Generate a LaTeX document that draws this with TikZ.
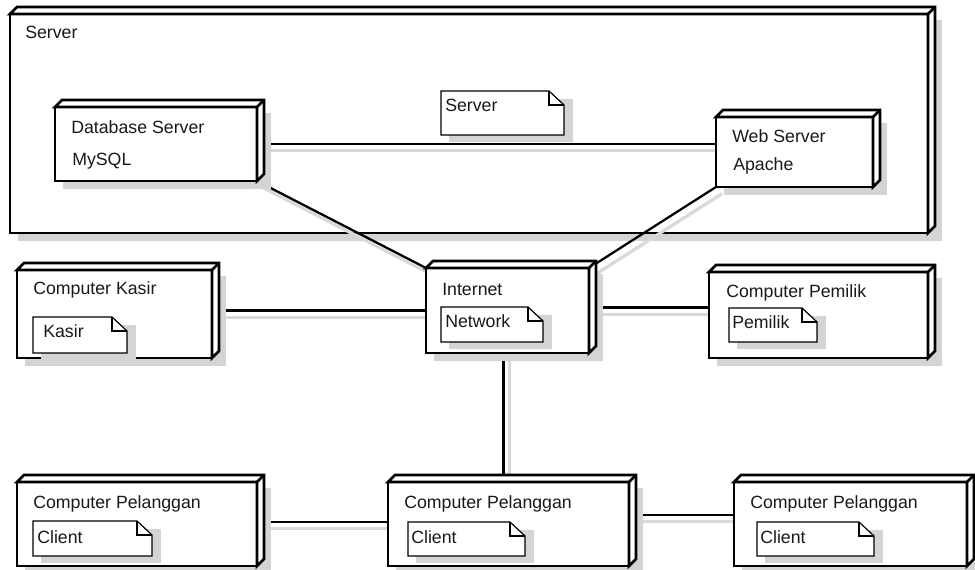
\documentclass[tikz,border=0pt]{standalone}
\usepackage{fontspec}
\setmainfont{Liberation Sans}
\usetikzlibrary{fit,calc}
\pgfdeclarelayer{bottom}
\pgfdeclarelayer{conns}
\pgfsetlayers{bottom,conns,main}
\tikzset{
  devface/.style={draw=black, fill=white, line width=2.1pt, inner sep=0pt, outer sep=0pt},
  devline/.style={draw=black, line width=2.1pt, line join=miter},
  shade/.style={fill=black!17},
  noteface/.style={inner sep=0pt, outer sep=0pt},
  noteline/.style={draw=black, line width=0.9pt},
  conn/.style={draw=black, line width=1.7pt,
    preaction={draw=black!15, line width=2.4pt, transform canvas={xshift=4.5pt, yshift=-5pt}}},
  lbl/.style={anchor=base west, inner sep=0pt, font=\fontsize{13.3}{16}\selectfont, text=black!90}
}
\newcommand\mkdev[5]{%
  \fill[shade] (#2+8,#3+6) rectangle (#4+14,#5+8);
  \node[devface, fit={(#2,#3)(#4,#5)}] (#1) {};
  \filldraw[devline, fill=white] (#1.north west) -- ++(7,-7) -- ($(#1.north east)+(7,-7)$) -- ($(#1.south east)+(7,-7)$) -- (#1.south east) -- (#1.north east) -- cycle;
  \draw[devline] (#1.north east) -- ++(7,-7);
}
\newcommand\mknote[5]{%
  \fill[shade] (#2+8,#3+8) rectangle (#4+9,#5+7);
  \node[noteface, fit={(#2,#3)(#4,#5)}] (#1) {};
  \filldraw[noteline, fill=white] (#1.north west) -- ($(#1.north east)+(-15,0)$) -- ($(#1.north east)+(0,14)$) -- (#1.south east) -- (#1.south west) -- cycle;
  \draw[noteline] ($(#1.north east)+(-15,0)$) |- ($(#1.north east)+(0,14)$);
}
\begin{document}
\begin{tikzpicture}[x=0.75pt, y=-0.75pt]
\useasboundingbox (0,0) rectangle (975,570);

% background and outer server box
\begin{pgfonlayer}{bottom}
  \fill[white] (0,0) rectangle (975,570);
  \mkdev{srv}{10}{14}{928}{233}
  \node[lbl] (srvlbl) at (25,39) {Server};
\end{pgfonlayer}

% device nodes
\mkdev{db}{55}{107}{257}{181}
\mkdev{web}{716}{117}{873}{187}
\mkdev{net}{426}{268}{589}{353}
\mkdev{kasir}{17}{270}{212}{358}
\mkdev{pem}{709}{272}{928}{358}
\mkdev{cpa}{17}{482}{257}{566}
\mkdev{cpb}{388}{482}{629}{566}
\mkdev{cpc}{734}{482}{967}{566}

% notes
\mknote{nsrv}{441}{91}{564}{135}
\mknote{nnet}{441}{307}{543}{342}
\mknote{nkas}{33}{317}{127}{353}
\mknote{npem}{729}{308}{817}{342}
\mknote{ncpa}{33}{521}{152}{556}
\mknote{ncpb}{408}{522}{525}{556}
\mknote{ncpc}{757}{522}{874}{556}

% labels
\node[lbl] (tdb) at (71,134) {Database Server};
\node[lbl] (tmy) at (72,166) {MySQL};
\node[lbl] (tweb) at (732,143) {Web Server};
\node[lbl] (tap) at (733,171) {Apache};
\node[lbl] (tns) at (445,112) {Server};
\node[lbl] (tint) at (442,296) {Internet};
\node[lbl] (tnw) at (445,328) {Network};
\node[lbl] (tkas) at (33,295) {Computer Kasir};
\node[lbl] (tkn) at (43,338) {Kasir};
\node[lbl] (tpem) at (726,298) {Computer Pemilik};
\node[lbl] (tpn) at (732,329) {Pemilik};
\node[lbl] (tca) at (33,508) {Computer Pelanggan};
\node[lbl] (tcan) at (37,543) {Client};
\node[lbl] (tcb) at (404,508) {Computer Pelanggan};
\node[lbl] (tcbn) at (411,543) {Client};
\node[lbl] (tcc) at (750,508) {Computer Pelanggan};
\node[lbl] (tccn) at (760,543) {Client};

% connectors
\begin{pgfonlayer}{conns}
  \draw[conn] (db.east) -- (db.east -| web.west);
  \draw[conn] (db.south east) -- (net.north west);
  \draw[conn] (web.south west) -- (net.north east);
  \draw[conn] (net.west -| kasir.east) -- (net.west);
  \draw[conn] ($(net.east)+(0,-3)$) -- ($(net.east -| pem.west)+(0,-3)$);
  \draw[conn] ($(net.south)+(-4,0)$) -- ($(net.south |- cpb.north)+(-4,0)$);
  \draw[conn] ($(cpa.east)+(0,-2)$) -- ($(cpa.east -| cpb.west)+(0,-2)$);
  \draw[conn] ($(cpb.east)+(0,-9)$) -- ($(cpb.east -| cpc.west)+(0,-9)$);
\end{pgfonlayer}
\end{tikzpicture}
\end{document}
